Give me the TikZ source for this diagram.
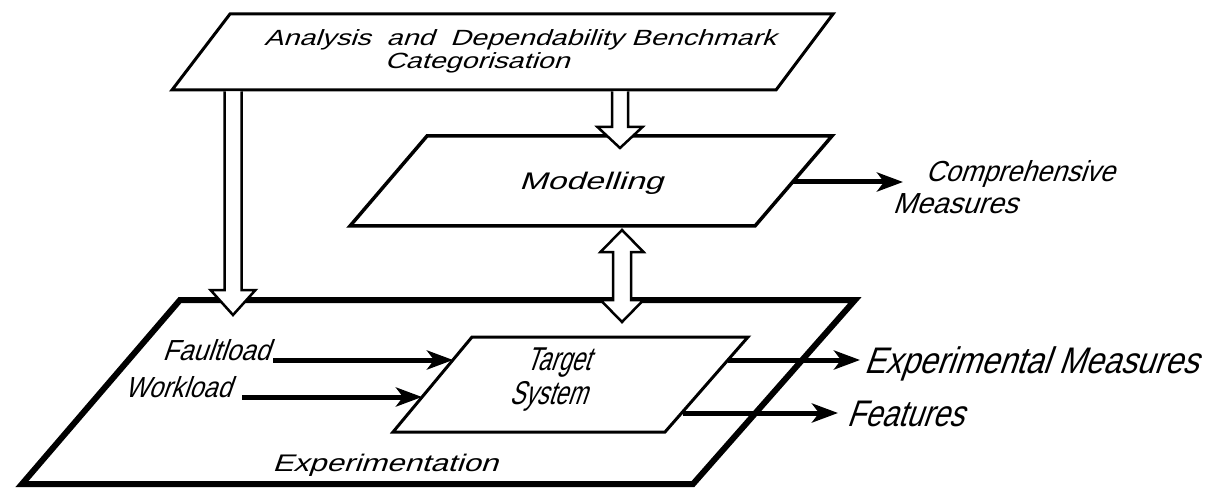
\documentclass[tikz,border=0pt]{standalone}
\usepackage{fontspec}
\setmainfont{Liberation Sans}[FakeSlant=0.35]
\usetikzlibrary{arrows.meta,calc}

\newcommand\fs[2]{\fontsize{#1}{#1}\selectfont\addfontfeatures{FakeStretch=#2}}
% hollow block arrows: from, tip, half shaft, half head, head length
\newcommand\blockdown[5]{\draw[hollow] ($(#1)+(-#3,0)$) -- ($(#2)+(-#3,-#5)$) -- ($(#2)+(-#4,-#5)$) -- (#2) -- ($(#2)+(#4,-#5)$) -- ($(#2)+(#3,-#5)$) -- ($(#1)+(#3,0)$);}
\newcommand\blockboth[5]{\draw[hollow] (#1) -- ($(#1)+(#4,#5)$) -- ($(#1)+(#3,#5)$) -- ($(#2)+(#3,-#5)$) -- ($(#2)+(#4,-#5)$) -- (#2) -- ($(#2)+(-#4,-#5)$) -- ($(#2)+(-#3,-#5)$) -- ($(#1)+(-#3,#5)$) -- ($(#1)+(-#4,#5)$) -- cycle;}

\begin{document}
\begin{tikzpicture}[x=1pt,y=-1pt]
    \tikzstyle{box}=[draw,line width=3pt,line join=miter]
    \tikzstyle{hollow}=[draw,fill=white,line width=2.5pt,line join=miter]
    \tikzstyle{flow}=[line width=5pt,-{Stealth[length=26pt,width=19pt,inset=7pt]}]
    \tikzstyle{lbl}=[inner sep=0pt,anchor=base]
    \useasboundingbox (0,0) rectangle (1210,489);

    % boxes
    \draw[box] (230,14) -- (833,14) -- (776,90) -- (172,90) -- cycle;
    \draw[box,line width=3.5pt] (427,136) -- (832,136) -- (755,226) -- (350,226) -- cycle;
    \draw[box,line width=6pt] (180,300) -- (855,300) -- (693,484) -- (22,484) -- cycle;
    \draw[box] (472,337) -- (748,337) -- (665,432) -- (393,432) -- cycle;

    % texts
    \node[lbl,font=\fs{22}{1.3}] (anal1) at (520,46) {Analysis\ \ and\ \ Dependability Benchmark};
    \node[lbl,font=\fs{22}{1.3}] (anal2) at (477,69) {Categorisation};
    \node[lbl,font=\fs{24}{1.4}] (model) at (591,190) {Modelling};
    \node[lbl,font=\fs{29}{0.93}] (comp1) at (1020,182) {Comprehensive};
    \node[lbl,font=\fs{29}{0.98}] (comp2) at (955,214) {Measures};
    \node[lbl,font=\fs{29}{0.9}] (fault) at (216,360) {Faultload};
    \node[lbl,font=\fs{29}{0.87}] (work) at (178,397) {Workload};
    \node[lbl,font=\fs{24}{1.3}] (exper) at (385,471) {Experimentation};
    \node[lbl,font=\fs{33}{0.7}] (target1) at (558,370) {Target};
    \node[lbl,font=\fs{33}{0.7}] (target2) at (548,404) {System};
    \node[lbl,font=\fs{37}{0.86}] (expm) at (1031,373) {Experimental Measures};
    \node[lbl,font=\fs{37}{0.8}] (feat) at (905,426) {Features};

    % connector ends
    \coordinate (model-e) at (793,182);
    \coordinate (comp-w) at (903,182);
    \coordinate (fault-e) at (273,360);
    \coordinate (target-w1) at (453,360);
    \coordinate (work-e) at (242,397);
    \coordinate (target-w2) at (422,397);
    \coordinate (target-e1) at (728,360);
    \coordinate (expm-w) at (860,360);
    \coordinate (target-e2) at (683,413);
    \coordinate (feat-w) at (838,413);
    \coordinate (anal-s1) at (233,91.5);
    \coordinate (exper-n1) at (233,315);
    \coordinate (anal-s2) at (620,91.5);
    \coordinate (model-n) at (620,148);
    \coordinate (model-s) at (622,230);
    \coordinate (exper-n2) at (622,322);

    \draw[flow] (model-e) -- (comp-w);
    \draw[flow] (fault-e) -- (target-w1);
    \draw[flow] (work-e) -- (target-w2);
    \draw[flow] (target-e1) -- (expm-w);
    \draw[flow] (target-e2) -- (feat-w);

    \blockdown{anal-s1}{exper-n1}{8.5}{22.5}{25}
    \blockdown{anal-s2}{model-n}{8}{22.5}{21}
    \blockboth{model-s}{exper-n2}{9}{21.5}{22}
\end{tikzpicture}
\end{document}
